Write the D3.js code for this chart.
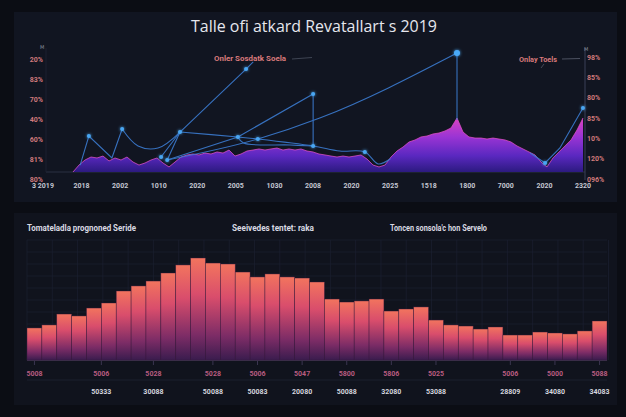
<!DOCTYPE html>
<html><head><meta charset="utf-8">
<script src="https://cdn.jsdelivr.net/npm/d3@7"></script>
<style>
html,body{margin:0;padding:0;background:#0a0c13;}
svg{display:block;}
</style></head><body>
<svg id="c" width="626" height="417"></svg>
<script>
// ---------- DATA ----------
const chartTitle = "Talle ofi atkard Revatallart s 2019";
const areaValues = [0,5.8,10,12.5,11.7,13.3,9.2,11.7,10,12.5,8.3,5.8,7.5,10,11.7,7.5,4.2,8.3,12.5,14.2,
  15,14.2,15.8,15,16.7,15.8,18.3,13.3,15,17.5,18.3,19.2,18.3,19.2,20,18.3,19.2,18.3,19.2,17.5,
  16.7,15,14.2,13.3,12.5,13.3,12.5,13.3,14.2,10.8,5.8,4.2,5.8,12.5,17.5,20.8,25,26.7,29.2,30,
  31.7,32.5,34.2,36.7,45,33.3,29.2,28.3,28.3,27.5,28.3,27.5,26.7,25,21.7,19.2,16.7,14.2,8.3,4.2,
  11.7,16.7,21.7,26.7,35,45];
const leftTicks = ["20%","83%","70%","40%","60%","81%","80%"];
const rightTicks = ["98%","85%","80%","85%","10%","120%","096%"];
const topXLabels = ["3 2019","2018","2002","1010","2020","2005","1030","2008","2020","2025","1518","1800","7000","2020","2320"];
const lineZig = [[1.4,5.8],[3.1,30],[7.6,11.7],[9.6,35.8]];
const lineU = [[9.6,35.8],[12.7,21.7],[16.6,20],[20.9,33.3]];
const lineRise = [[20.9,33.3],[33.8,85.8],[35.2,91.7]];
const lineShortA = [[17.2,12.5],[20.9,33.3]];
const lineShortB = [[18.4,10],[20.9,33.3]];
const lineMid = [[18.4,10],[32.2,29.2],[46.9,65],[46.9,21.7]];
const lineLong = [[18.4,10],[36.1,27.5],[48.2,45],[75,99.2]];
const lineDrop = [[75,99.2],[75,43.3]];
const lineLow = [[20.9,33.3],[32.2,29.2],[36.1,27.5],[46.9,21.7],[52.1,17.5],[57,16.7],[59.6,6.7],[62,11]];
const lineLow2 = [[32.2,29.2],[33.3,24.2],[42.4,22.5],[46.9,21.7]];
const lineRight = [[89.3,15.8],[92.2,7.5],[95.1,20],[99.6,53.3]];
const dots = [[3.1,30],[9.6,35.8],[17.2,12.5],[18.4,10],[20.9,33.3],[33.8,85.8],[32.2,29.2],[36.1,27.5],
  [46.9,65],[46.9,21.7],[57,16.7],[92.2,7.5],[99.6,53.3]];
const bigDot = [[75,99.2]];
const annotLeft = "Onler Sosdatk Soela";
const annotRight = "Onlay Toels";

const barValues = [26.7,29.2,38.3,36.7,43.3,47.5,57.5,61.7,65.8,72.5,79.2,85,80.8,80,73.3,69.2,71.7,69.2,68.3,65,
  50.8,48.3,49.2,50.8,40.8,42.5,44.2,33.3,29.2,28.3,25.8,27.5,20.8,20.8,23.3,22.5,21.7,24.2,32.5];
const bottomTitles = ["Tomateladla prognoned Seride","Seeivedes tentet: raka","Toncen sonsola'c hon Servelo"];
const labelBars = [0,4.5,8,12,15,18,21,24,27,32,35,38];
const bottomRow1 = ["5008","5006","5028","5028","5006","5047","5800","5806","5025","5006","5000","5088"];
const bottomRow2 = ["","50333","30088","50088","50083","20080","50088","32080","53088","28809","34080","34083"];

// ---------- DRAW ----------
const svg = d3.select("#c");
const defs = svg.append("defs");

const ag = defs.append("linearGradient").attr("id","ag").attr("gradientUnits","userSpaceOnUse")
  .attr("x1",0).attr("y1",118).attr("x2",0).attr("y2",172);
[[0,"#d942c2"],[0.35,"#9a34d4"],[0.7,"#5a28c0"],[1,"#2c1a80"]].forEach(s=>ag.append("stop").attr("offset",s[0]).attr("stop-color",s[1]));
const bg = defs.append("linearGradient").attr("id","bg").attr("x1",0).attr("y1",0).attr("x2",0).attr("y2",1);
[[0,"#f2745e"],[0.35,"#d94d6c"],[0.75,"#7c2c66"],[1,"#3a1c4e"]].forEach(s=>bg.append("stop").attr("offset",s[0]).attr("stop-color",s[1]));
const glow = defs.append("filter").attr("id","glow").attr("x","-2").attr("y","-2").attr("width","5").attr("height","5");
glow.append("feGaussianBlur").attr("stdDeviation",1.6).attr("result","b");
const fm = glow.append("feMerge"); fm.append("feMergeNode").attr("in","b"); fm.append("feMergeNode").attr("in","SourceGraphic");

// panels
svg.append("rect").attr("x",0).attr("y",0).attr("width",626).attr("height",417).attr("fill","#0b0d14");
svg.append("rect").attr("x",14).attr("y",12).attr("width",603).attr("height",190).attr("fill","#111521");
svg.append("rect").attr("x",14).attr("y",213).attr("width",603).attr("height",192).attr("fill","#10131d");

// title
svg.append("text").attr("x",314).attr("y",32).attr("text-anchor","middle")
  .attr("font-family","Open Sans, sans-serif").attr("font-size",17).attr("fill","#e6e7ee")
  .attr("textLength",246).attr("lengthAdjust","spacingAndGlyphs").text(chartTitle);

// top scales
const x = d3.scaleLinear().domain([0,100]).range([73,585]);
const y = d3.scaleLinear().domain([0,100]).range([172,52]);
const xa = d3.scaleLinear().domain([0,areaValues.length-1]).range([73,583]);

// axis frame
svg.append("line").attr("x1",46).attr("x2",585).attr("y1",y(0)).attr("y2",y(0)).attr("stroke","#2a3042").attr("stroke-width",1);
svg.append("line").attr("x1",46).attr("x2",46).attr("y1",48).attr("y2",172).attr("stroke","#1c2130").attr("stroke-width",1);
svg.append("line").attr("x1",585).attr("x2",585).attr("y1",48).attr("y2",180).attr("stroke","#3a4158").attr("stroke-width",1);
svg.append("text").attr("x",40).attr("y",49).attr("font-family","DejaVu Sans").attr("font-size",5).attr("fill","#8a8f9c").text("M");
svg.append("text").attr("x",584).attr("y",51).attr("font-family","DejaVu Sans").attr("font-size",5).attr("fill","#8a8f9c").text("M");

// area
const area = d3.area().x((d,i)=>xa(i)).y0(y(0)).y1(d=>y(d)).curve(d3.curveLinear);
svg.append("path").datum(areaValues).attr("d",area).attr("fill","url(#ag)");
svg.append("path").datum(areaValues).attr("d",d3.line().x((d,i)=>xa(i)).y(d=>y(d)))
  .attr("fill","none").attr("stroke","#e050c8").attr("stroke-width",1).attr("opacity",0.75);

// lines
const lin = d3.line().x(d=>x(d[0])).y(d=>y(d[1]));
const crv = d3.line().x(d=>x(d[0])).y(d=>y(d[1])).curve(d3.curveCatmullRom.alpha(0.5));
const mono = d3.line().x(d=>x(d[0])).y(d=>y(d[1])).curve(d3.curveMonotoneX);
const lg = svg.append("g").attr("fill","none").attr("stroke","#3b7bd0").attr("stroke-width",1.1).attr("opacity",0.9);
[[lineZig,lin],[lineU,crv],[lineRise,lin],[lineShortA,lin],[lineShortB,lin],[lineMid,lin],[lineLong,mono],[lineDrop,lin],[lineLow,crv],[lineLow2,crv],[lineRight,lin]]
  .forEach(([d,g])=>lg.append("path").attr("d",g(d)));
svg.append("g").selectAll("circle").data(dots).join("circle")
  .attr("cx",d=>x(d[0])).attr("cy",d=>y(d[1])).attr("r",2).attr("fill","#4aa6f2").attr("filter","url(#glow)");
svg.append("g").selectAll("circle").data(bigDot).join("circle")
  .attr("cx",d=>x(d[0])).attr("cy",d=>y(d[1])).attr("r",3).attr("fill","#4aaaf8").attr("filter","url(#glow)");

// annotations
svg.append("text").attr("x",214).attr("y",61).attr("font-family","Roboto, sans-serif").attr("font-weight",700)
  .attr("font-size",8).attr("fill","#d97a7c").attr("textLength",72).attr("lengthAdjust","spacingAndGlyphs").text(annotLeft);
svg.append("line").attr("x1",292).attr("x2",312).attr("y1",59).attr("y2",57.5).attr("stroke","#4a5060").attr("stroke-width",0.8);
svg.append("text").attr("x",519).attr("y",62).attr("font-family","Roboto, sans-serif").attr("font-weight",700)
  .attr("font-size",8).attr("fill","#d97a7c").attr("textLength",38).attr("lengthAdjust","spacingAndGlyphs").text(annotRight);
svg.append("line").attr("x1",562).attr("x2",580).attr("y1",59).attr("y2",58.5).attr("stroke","#5a6070").attr("stroke-width",0.8);
svg.append("line").attr("x1",544).attr("x2",541).attr("y1",64).attr("y2",68).attr("stroke","#5a6070").attr("stroke-width",0.7);

// y tick labels
const yl = d3.scalePoint().domain(d3.range(leftTicks.length)).range([59,179]);
svg.append("g").selectAll("text").data(leftTicks).join("text")
  .attr("x",43).attr("y",(d,i)=>yl(i)+2.5).attr("text-anchor","end")
  .attr("font-family","Roboto, sans-serif").attr("font-weight",700).attr("font-size",7).attr("fill","#d07a7c").text(d=>d);
const yr = d3.scalePoint().domain(d3.range(rightTicks.length)).range([57,179]);
svg.append("g").selectAll("text").data(rightTicks).join("text")
  .attr("x",587).attr("y",(d,i)=>yr(i)+2.5)
  .attr("font-family","Roboto, sans-serif").attr("font-weight",700).attr("font-size",7).attr("fill","#d07a7c").text(d=>d);
// x tick labels
const xl = d3.scalePoint().domain(d3.range(topXLabels.length)).range([43,583]);
svg.append("g").selectAll("text").data(topXLabels).join("text")
  .attr("x",(d,i)=>xl(i)).attr("y",188).attr("text-anchor","middle")
  .attr("font-family","Roboto, sans-serif").attr("font-weight",700).attr("font-size",7).attr("fill","#c4c7d2").text(d=>d);

// ---------- bottom ----------
const bx = d3.scaleBand().domain(d3.range(barValues.length)).range([27,607]).padding(0);
const bxl = d3.scaleLinear().domain([0,barValues.length]).range([27,607]);
const by = d3.scaleLinear().domain([0,100]).range([360,240]);

const grid = svg.append("g").attr("stroke","#1b2030").attr("stroke-width",0.7);
by.ticks(10).filter(t=>t>0).forEach(t=>grid.append("line").attr("x1",27).attr("x2",607).attr("y1",by(t)).attr("y2",by(t)));
d3.range(0,40,1.7).forEach(t=>grid.append("line").attr("x1",bxl(t)).attr("x2",bxl(t)).attr("y1",240).attr("y2",360));

svg.append("g").selectAll("rect").data(barValues).join("rect")
  .attr("x",(d,i)=>bx(i)).attr("width",bx.bandwidth()).attr("y",d=>by(d)).attr("height",d=>by(0)-by(d))
  .attr("fill","url(#bg)").attr("stroke","#3a1a3e").attr("stroke-width",0.6).attr("stroke-opacity",0.7);

svg.append("line").attr("x1",27).attr("x2",607).attr("y1",360.5).attr("y2",360.5).attr("stroke","#3a2c48").attr("stroke-width",1);
svg.append("line").attr("x1",27).attr("x2",607).attr("y1",380).attr("y2",380).attr("stroke","#1f2332").attr("stroke-width",0.8);

svg.append("g").selectAll("line").data(labelBars).join("line")
  .attr("x1",d=>bxl(d+0.5)).attr("x2",d=>bxl(d+0.5)).attr("y1",361).attr("y2",365).attr("stroke","#3a3550");
svg.append("g").selectAll("text").data(bottomRow1).join("text")
  .attr("x",(d,i)=>bxl(labelBars[i]+0.5)).attr("y",375.5).attr("text-anchor","middle")
  .attr("font-family","Roboto, sans-serif").attr("font-weight",700).attr("font-size",7).attr("fill","#b85c80").text(d=>d);
svg.append("g").selectAll("text").data(bottomRow2).join("text")
  .attr("x",(d,i)=>bxl(labelBars[i]+0.5)).attr("y",393.5).attr("text-anchor","middle")
  .attr("font-family","Roboto, sans-serif").attr("font-weight",700).attr("font-size",7).attr("fill","#d4d5de").text(d=>d);

const tpos = [[27,109],[232,82],[390,97]];
svg.append("g").selectAll("text").data(bottomTitles).join("text")
  .attr("x",(d,i)=>tpos[i][0]).attr("y",231)
  .attr("font-family","Roboto, sans-serif").attr("font-weight",700).attr("font-size",8.5).attr("fill","#d8d9e2")
  .attr("textLength",(d,i)=>tpos[i][1]).attr("lengthAdjust","spacingAndGlyphs").text(d=>d);
</script>
</body></html>
